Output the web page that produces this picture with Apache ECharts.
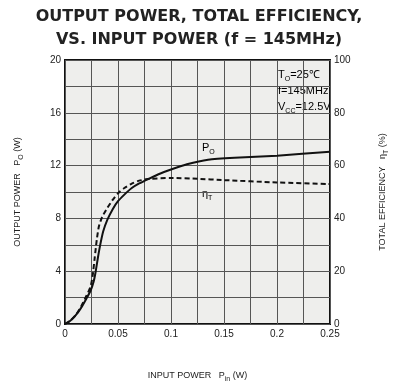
<!DOCTYPE html>
<html>
<head>
<meta charset="utf-8">
<script src="https://cdn.jsdelivr.net/npm/echarts@6/dist/echarts.min.js"></script>
<style>
  html, body { margin: 0; padding: 0; background: #fff; }
  #chart { width: 398px; height: 388px; }
</style>
</head>
<body>
<div id="chart"></div>
<script>
// input power Pin (W) and output power Po (W)
const poPin = [0, 0.005, 0.01, 0.015, 0.02, 0.024, 0.027, 0.029, 0.031, 0.033, 0.036, 0.04, 0.045, 0.05, 0.056, 0.063, 0.07, 0.079, 0.09, 0.1, 0.115, 0.135, 0.16, 0.2, 0.25]
const poOut = [0, 0.25, 0.65, 1.2, 1.9, 2.5, 3.2, 4.0, 5.0, 5.9, 7.0, 7.9, 8.7, 9.3, 9.8, 10.3, 10.65, 11.0, 11.4, 11.7, 12.1, 12.45, 12.6, 12.75, 13.05]

// total efficiency (%) vs Pin
const etaPin = [0, 0.005, 0.01, 0.015, 0.02, 0.024, 0.026, 0.028, 0.030, 0.032, 0.035, 0.04, 0.045, 0.05, 0.056, 0.063, 0.07, 0.08, 0.1, 0.125, 0.15, 0.2, 0.25]
const etaVal = [0, 1.3, 3.3, 6.5, 10.5, 14, 18, 25, 32, 37, 40.5, 44, 47, 49.5, 51.5, 53.2, 54.3, 55, 55.3, 55, 54.5, 53.6, 53]

const xLabels = ['0', '0.05', '0.1', '0.15', '0.2', '0.25']
const leftLabels = [0, 4, 8, 12, 16, 20]

const ink = '#222'
const font = 'Liberation Sans'

const chart = echarts.init(document.getElementById('chart'))

const sub = { fontSize: 7, verticalAlign: 'bottom', padding: [0, 0, -3, 0], color: ink, fontFamily: font }
const big = { fontSize: 11, color: ink, fontFamily: font, lineHeight: 16 }
const small = { fontSize: 7, color: ink, fontFamily: font, lineHeight: 16, verticalAlign: 'bottom' }

let option = {
  backgroundColor: '#fff',
  animation: false,
  title: {
    text: 'OUTPUT POWER, TOTAL EFFICIENCY,\nVS. INPUT POWER (f = 145MHz)',
    left: 'center',
    top: 0,
    textStyle: { fontSize: 16, fontWeight: 'bold', color: ink, fontFamily: 'DejaVu Sans', lineHeight: 23 }
  },
  grid: { left: 65, right: 65, top: 60, bottom: 62, show: true, backgroundColor: '#eeeeec', borderColor: '#111', borderWidth: 2 },
  xAxis: {
    type: 'value', min: 0, max: 0.25, interval: 0.025,
    name: '{a|INPUT POWER   P}{s|in}{a| (W)}',
    nameLocation: 'middle', nameGap: 47,
    nameTextStyle: { rich: { a: { fontSize: 9, color: ink, fontFamily: font }, s: sub } },
    axisLine: { show: false }, axisTick: { show: false },
    axisLabel: {
      color: ink, fontSize: 10, fontFamily: font, margin: 5,
      formatter: v => {
        const i = Math.round(v / 0.025)
        return i % 2 === 0 ? xLabels[i / 2] : ''
      }
    },
    splitLine: { lineStyle: { color: '#555', width: 1 } }
  },
  yAxis: [
    {
      type: 'value', min: 0, max: 20, interval: 2,
      name: '{a|OUTPUT POWER   P}{s|O}{a| (W)}',
      nameLocation: 'middle', nameGap: 43, nameRotate: 90,
      nameTextStyle: { rich: { a: { fontSize: 9, color: ink, fontFamily: font }, s: sub } },
      axisLine: { show: false }, axisTick: { show: false },
      axisLabel: {
        color: ink, fontSize: 10, fontFamily: font, margin: 4,
        formatter: v => leftLabels.includes(v) ? String(v) : ''
      },
      splitLine: { lineStyle: { color: '#555', width: 1 } }
    },
    {
      type: 'value', min: 0, max: 100, interval: 20, position: 'right',
      name: '{a|TOTAL EFFICIENCY   η}{s|T}{a| (%)}',
      nameLocation: 'middle', nameGap: 48, nameRotate: 90,
      nameTextStyle: { rich: { a: { fontSize: 9, color: ink, fontFamily: font }, s: sub } },
      axisLine: { show: false }, axisTick: { show: false },
      axisLabel: { color: ink, fontSize: 10, fontFamily: font, margin: 4 },
      splitLine: { show: false }
    }
  ],
  graphic: [
    {
      type: 'text', left: 278, top: 69,
      style: {
        text: '{a|T}{s|O}{a|=25℃}\n{a|f=145MHz}\n{a|V}{s|CC}{a|=12.5V}',
        rich: { a: big, s: small }
      }
    },
    {
      type: 'text', left: 202, top: 142,
      style: { text: '{a|P}{s|O}', rich: { a: big, s: small } }
    },
    {
      type: 'text', left: 202, top: 188,
      style: { text: '{a|η}{s|T}', rich: { a: big, s: small } }
    }
  ],
  series: [
    {
      name: 'Po', type: 'line', yAxisIndex: 0, smooth: 0.2, symbol: 'none',
      data: poPin.map((x, i) => [x, poOut[i]]),
      lineStyle: { color: '#111', width: 2 }
    },
    {
      name: 'eta', type: 'line', yAxisIndex: 1, smooth: 0.2, symbol: 'none',
      data: etaPin.map((x, i) => [x, etaVal[i]]),
      lineStyle: { color: '#111', width: 2, type: [5, 3] }
    }
  ]
}

chart.setOption(option)
</script>
</body>
</html>
